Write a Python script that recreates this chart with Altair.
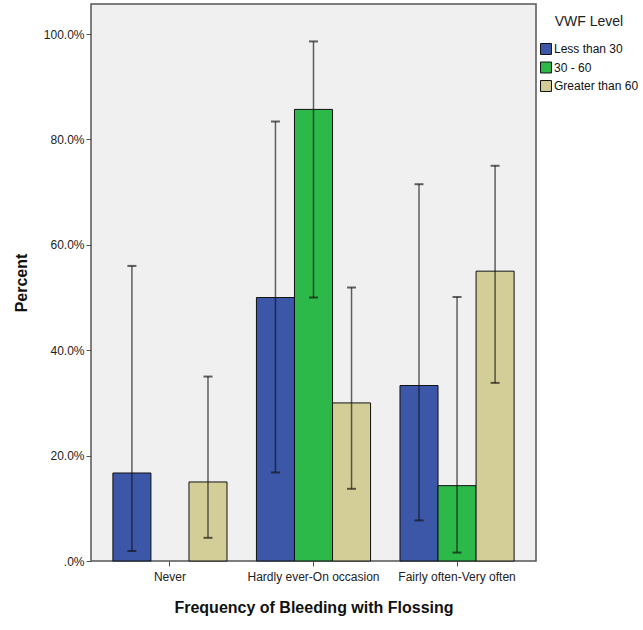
import altair as alt
import pandas as pd

categories = ["Never", "Hardly ever-On occasion", "Fairly often-Very often"]
levels = ["Less than 30", "30 - 60", "Greater than 60"]
colors = ["#3c56a8", "#2db84a", "#d3ce97"]

# percent by category (rows) and level (columns); None = no bar
percent = [
    [16.7, None, 15.0],
    [50.0, 85.7, 30.0],
    [33.3, 14.3, 55.0],
]
ci_low = [
    [1.9, None, 4.4],
    [16.8, 50.0, 13.7],
    [7.7, 1.6, 33.8],
]
ci_high = [
    [56.0, None, 35.0],
    [83.4, 98.6, 51.9],
    [71.5, 50.1, 75.0],
]

rows = []
for i, c in enumerate(categories):
    for j, l in enumerate(levels):
        if percent[i][j] is None:
            continue
        rows.append({"cat": c, "level": l, "pct": percent[i][j],
                     "lo": ci_low[i][j], "hi": ci_high[i][j]})
df = pd.DataFrame(rows)

FONT = "Liberation Sans"

x = alt.X("cat:N", sort=categories,
          scale=alt.Scale(paddingInner=0.205, paddingOuter=0.1525),
          axis=alt.Axis(title="Frequency of Bleeding with Flossing", labelAngle=0,
                        labelFontSize=12, titleFontSize=16, titleFontWeight="bold",
                        titlePadding=17, tickSize=5, labelPadding=5,
                        domain=False, tickColor="#555555", labelColor="#222222",
                        titleColor="#111111", labelFont=FONT, titleFont=FONT))
xo = alt.XOffset("level:N", sort=levels, scale=alt.Scale(paddingInner=0, paddingOuter=0))
yscale = alt.Scale(domain=[0, 105.7], nice=False, zero=True)

bars = alt.Chart(df).mark_bar(stroke="#111111", strokeWidth=1, opacity=1).encode(
    x=x,
    xOffset=xo,
    y=alt.Y("pct:Q", scale=yscale,
            axis=alt.Axis(title="Percent", values=[0, 20, 40, 60, 80, 100],
                          labelExpr="datum.value == 0 ? '.0%' : format(datum.value, '.1f') + '%'",
                          labelFontSize=12, titleFontSize=16, titleFontWeight="bold",
                          titlePadding=14, tickSize=5, grid=False, domain=False,
                          tickColor="#555555", labelColor="#222222", titleColor="#111111",
                          labelFont=FONT, titleFont=FONT)),
    color=alt.Color("level:N", sort=levels,
                    scale=alt.Scale(domain=levels, range=colors),
                    legend=alt.Legend(title="VWF Level", orient="none", legendX=449, legendY=11,
                                      titleFontSize=14, titleFontWeight="normal",
                                      titleAnchor="middle", titleColor="#222222",
                                      labelFontSize=12, labelColor="#111111",
                                      symbolType="square", symbolSize=120,
                                      symbolStrokeColor="#111111", symbolStrokeWidth=1,
                                      symbolOpacity=1, rowPadding=2.5, titlePadding=14,
                                      labelOffset=2, labelLimit=200,
                                      labelFont=FONT, titleFont=FONT)),
)

err = alt.Chart(df).mark_rule(color="#111111", strokeWidth=1.5, opacity=0.65).encode(
    x=x, xOffset=xo, y=alt.Y("lo:Q", scale=yscale), y2="hi:Q")

cap_lo = alt.Chart(df).mark_tick(color="#111111", thickness=2, size=9, opacity=0.65,
                                 orient="horizontal").encode(
    x=x, xOffset=xo, y=alt.Y("lo:Q", scale=yscale))
cap_hi = alt.Chart(df).mark_tick(color="#111111", thickness=2, size=9, opacity=0.65,
                                 orient="horizontal").encode(
    x=x, xOffset=xo, y=alt.Y("hi:Q", scale=yscale))

chart = alt.layer(bars, err, cap_lo, cap_hi).properties(
    width=445, height=557,
    autosize=alt.AutoSizeParams(type="none"),
    padding={"left": 91, "top": 4, "right": 107, "bottom": 69},
    background="white",
).configure_view(fill="#f0f0f0", stroke="#555555", strokeWidth=1.5)

chart.save("out.html", embed_options={"renderer": "svg", "actions": False})
